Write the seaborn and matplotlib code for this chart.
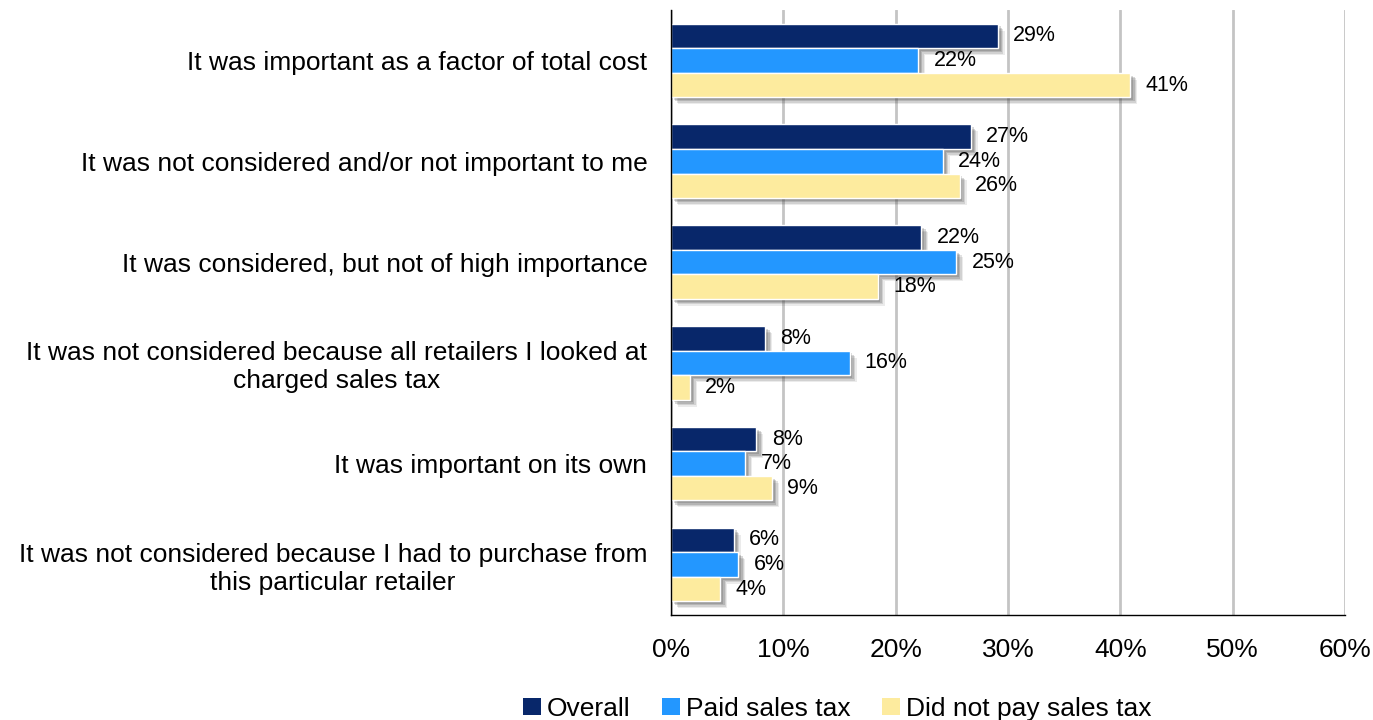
import numpy as np
import pandas as pd
import matplotlib
matplotlib.use('Agg')
import matplotlib.pyplot as plt
import matplotlib.patheffects as pe
from matplotlib.patches import Patch
import seaborn as sns

categories = [
   'It was important as a factor of total cost',
   'It was not considered and/or not important to me',
   'It was considered, but not of high importance',
   'It was not considered because all retailers I looked at\ncharged sales tax',
   'It was important on its own',
   'It was not considered because I had to purchase from\nthis particular retailer',
]
series = ['Overall', 'Paid sales tax', 'Did not pay sales tax']
overall = [29.1, 26.7, 22.3, 8.4, 7.6, 5.6]
paid = [22.0, 24.2, 25.4, 15.9, 6.6, 6.0]
not_paid = [40.9, 25.7, 18.4, 1.7, 9.0, 4.4]
colors = ['#08276a', '#2397ff', '#fdeb9e']


def build_frame():
   rows = []
   for name, vals in zip(series, [overall, paid, not_paid]):
      for cat, v in zip(categories, vals):
         rows.append({'Reason': cat, 'Share': v, 'Group': name})
   return pd.DataFrame(rows)


def main():
   df = build_frame()
   sns.set_style('white')
   plt.rcParams['font.family'] = ['Liberation Sans', 'DejaVu Sans']
   plt.rcParams['text.color'] = 'black'
   plt.rcParams['xtick.color'] = 'black'
   plt.rcParams['ytick.color'] = 'black'

   fig = plt.figure(figsize=(13.73, 7.2), dpi=100)
   ax = fig.add_axes([0.4887, 0.146, 0.4909, 0.840])

   sns.barplot(data=df, x='Share', y='Reason', hue='Group', orient='h',
               palette=colors, saturation=1, width=0.73, gap=0,
               errorbar=None, legend=False, ax=ax)

   # soft drop shadow on the bars
   shadow = [pe.SimplePatchShadow(offset=(o, -o), alpha=a, shadow_rgbFace='#404040')
             for o, a in [(5, 0.10), (4, 0.15), (3, 0.2), (2, 0.2)]]
   for bar in ax.patches:
      bar.set_path_effects(shadow + [pe.Normal()])

   for cont in ax.containers:
      ax.bar_label(cont, labels=['%.0f%%' % b.get_width() for b in cont],
                   padding=11, fontsize=15.5, color='black')

   ax.set_xlim(0, 60)
   ax.set_xticks(np.arange(0, 61, 10))
   ax.set_xticklabels(['%d%%' % t for t in range(0, 61, 10)], fontsize=19)
   ax.tick_params(axis='x', length=5, width=1, color='black', pad=12)
   ax.xaxis.grid(True, color='#c4c4c4', lw=2)
   ax.set_axisbelow(True)

   ax.set_yticks(np.arange(-0.5, len(categories), 1), minor=True)
   ax.tick_params(axis='y', which='major', length=0, pad=17)
   ax.tick_params(axis='y', which='minor', length=7, width=1, color='#555555')
   ax.set_yticklabels(categories, fontsize=19, ha='right',
                      multialignment='center')
   ax.set_xlabel('')
   ax.set_ylabel('')

   for side in ['top', 'right']:
      ax.spines[side].set_visible(False)
   for side in ['left', 'bottom']:
      ax.spines[side].set_color('black')
      ax.spines[side].set_linewidth(1)

   handles = [Patch(facecolor=c, edgecolor='none') for c in colors]
   fig.legend(handles, series, loc='lower center', bbox_to_anchor=(0.61, -0.034),
              ncol=3, frameon=False, fontsize=19, handlelength=0.65,
              handleheight=0.65, handletextpad=0.25, columnspacing=1.2)

   fig.savefig('out.png', dpi=100)


if __name__ == '__main__':
   main()
